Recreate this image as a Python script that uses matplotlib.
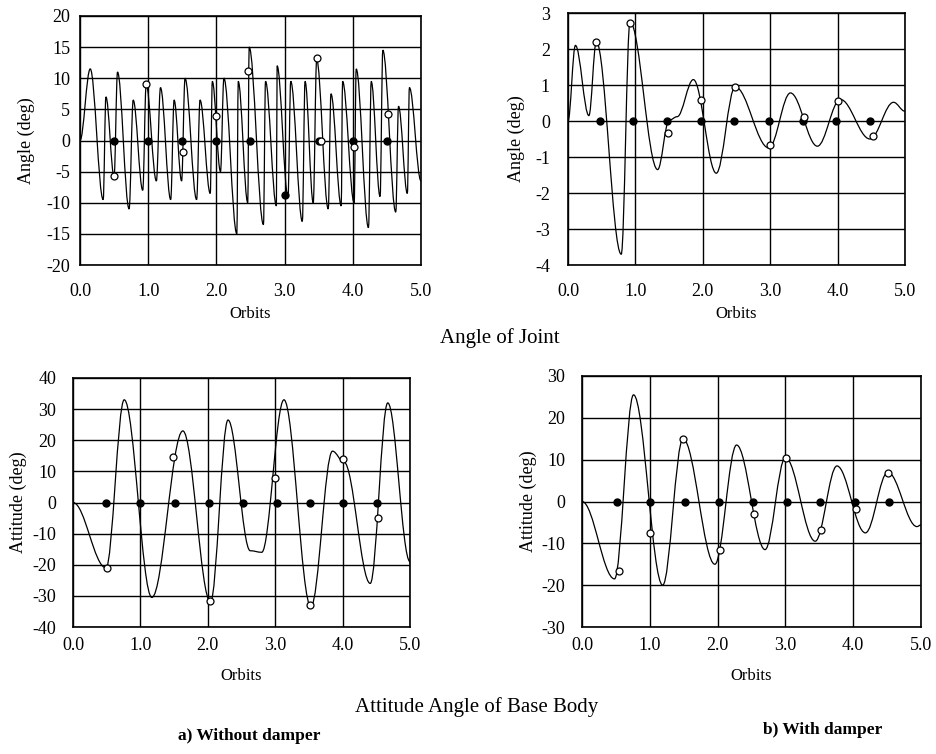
import matplotlib
matplotlib.use("Agg")
import matplotlib.pyplot as plt
from matplotlib.path import Path
from matplotlib.patches import PathPatch
from matplotlib.ticker import FormatStrFormatter

plt.rcParams['font.family'] = ['Liberation Serif', 'DejaVu Serif']
plt.rcParams['axes.unicode_minus'] = False

# ---- joint angle, without damper (turning points)
joint_a_t = [0.0, 0.15, 0.34, 0.38, 0.50, 0.55, 0.72, 0.78, 0.92, 0.97, 1.12, 1.18,
             1.33, 1.38, 1.49, 1.54, 1.71, 1.76, 1.91, 1.94, 2.06, 2.11, 2.30, 2.32,
             2.46, 2.48, 2.69, 2.72, 2.88, 2.89, 3.05, 3.09, 3.26, 3.30, 3.42, 3.47,
             3.64, 3.68, 3.83, 3.85, 4.02, 4.05, 4.23, 4.27, 4.40, 4.44, 4.63, 4.67,
             4.80, 4.83, 5.0]
joint_a_v = [0, 11.5, -9.5, 7, -5.8, 11, -11, 6.5, -8, 9, -6.5, 8.5,
             -9.5, 6.5, -6.5, 10, -9.5, 6.5, -8.5, 9.5, -5, 10, -15, 9.5,
             -10, 15, -13.5, 9.5, -10.5, 12, -9, 9.5, -13, 9.5, -10, 13,
             -11, 7.5, -10.5, 9.5, -10, 11.5, -14, 9.5, -9, 14.5, -11.5, 5.5,
             -8.5, 8.5, -6.5]
joint_a_fill_t = [0.5, 1.0, 1.5, 2.0, 2.5, 3.0, 3.5, 4.0, 4.5]
joint_a_fill_v = [0, 0, 0, 0, 0, -8.7, 0, 0, 0]
joint_a_open_t = [0.50, 0.97, 1.51, 1.99, 2.47, 3.47, 3.53, 4.02, 4.51]
joint_a_open_v = [-5.7, 9, -1.8, 4, 11.2, 13.2, 0, -1, 4.3]

# ---- joint angle, with damper
joint_b_t = [0.0, 0.11, 0.31, 0.42, 0.79, 0.92, 1.33, 1.50, 1.62, 1.86, 2.20,
             2.48, 2.98, 3.30, 3.70, 4.04, 4.48, 4.83, 5.0]
joint_b_v = [0, 2.1, 0.15, 2.2, -3.7, 2.75, -1.35, 0.02, 0.12, 1.15, -1.45,
             0.95, -0.75, 0.78, -0.7, 0.6, -0.5, 0.52, 0.27]
joint_b_fill_t = [0.47, 0.97, 1.47, 1.97, 2.47, 2.98, 3.48, 3.98, 4.48]
joint_b_fill_v = [0, 0, 0, 0, 0, 0, 0, 0, 0]
joint_b_open_t = [0.42, 0.92, 1.48, 1.97, 2.48, 3.0, 3.5, 4.0, 4.53]
joint_b_open_v = [2.2, 2.72, -0.32, 0.58, 0.95, -0.68, 0.12, 0.55, -0.43]

# ---- base attitude, without damper
att_a_t = [0.0, 0.49, 0.76, 1.17, 1.63, 2.04, 2.30, 2.63, 2.80, 3.13, 3.53,
           3.85, 4.02, 4.41, 4.67, 5.0]
att_a_v = [0, -21, 33, -30.5, 23, -32, 26.5, -15.5, -16, 33, -33.5,
           16.5, 13, -26, 32, -19]
att_a_fill_t = [0.49, 0.99, 1.51, 2.02, 2.52, 3.02, 3.51, 4.01, 4.51]
att_a_fill_v = [0, 0, 0, 0, 0, 0, 0, 0, 0]
att_a_open_t = [0.50, 1.49, 2.04, 3.0, 3.52, 4.0, 4.52]
att_a_open_v = [-21, 14.5, -31.5, 8, -33, 14, -5]

# ---- base attitude, with damper
att_b_t = [0.0, 0.48, 0.76, 1.19, 1.49, 1.96, 2.28, 2.70, 3.0, 3.44, 3.76,
           4.18, 4.51, 4.94, 5.0]
att_b_v = [0, -18.5, 25.5, -20, 15, -15, 13.5, -11.5, 10.5, -9.5, 8.5,
           -7.5, 7, -6, -5.6]
att_b_fill_t = [0.51, 1.01, 1.52, 2.02, 2.52, 3.02, 3.51, 4.03, 4.53]
att_b_fill_v = [0, 0, 0, 0, 0, 0, 0, 0, 0]
att_b_open_t = [0.54, 1.01, 1.49, 2.04, 2.53, 3.01, 3.53, 4.04, 4.51]
att_b_open_v = [-16.5, -7.5, 15, -11.5, -3, 10.5, -6.7, -1.8, 6.8]

W, H = 937, 754
fig = plt.figure(figsize=(W / 100, H / 100), dpi=100)


def wave(t, v, k=0.36):
    # smooth curve through the turning points, flat at each of them
    verts = [(t[0], v[0])]
    codes = [Path.MOVETO]
    for i in range(1, len(t)):
        d = t[i] - t[i - 1]
        verts += [(t[i - 1] + k * d, v[i - 1]), (t[i] - k * d, v[i]), (t[i], v[i])]
        codes += [Path.CURVE4] * 3
    return Path(verts, codes)


def panel(left, top, right, bottom, t, v, ft, fv, ot, ov, yticks, ylabel,
          ylab_x, ypad, xpad, xlabpad):
    ax = fig.add_axes([left / W, 1 - bottom / H, (right - left) / W, (bottom - top) / H])
    ax.add_patch(PathPatch(wave(t, v), fill=False, color='black', lw=0.9))
    ax.plot(ft, fv, 'o', ms=5, color='black', zorder=4)
    ax.plot(ot, ov, 'o', ms=5, mfc='white', mec='black', mew=0.9, zorder=5)
    ax.set_xlim(0, 5)
    ax.set_ylim(yticks[0], yticks[-1])
    ax.set_xticks([0, 1, 2, 3, 4, 5])
    ax.set_yticks(yticks)
    ax.xaxis.set_major_formatter(FormatStrFormatter('%.1f'))
    ax.tick_params(length=0, labelsize=13)
    ax.tick_params(axis='y', pad=ypad)
    ax.tick_params(axis='x', pad=xpad)
    ax.grid(True, color='black', lw=1.0)
    ax.set_axisbelow(True)
    for s in ax.spines.values():
        s.set_linewidth(1.2)
    ax.set_xlabel('Orbits', fontsize=12, labelpad=xlabpad)
    ax.set_ylabel(ylabel, fontsize=13)
    ax.yaxis.set_label_coords(ylab_x, 0.5)
    return ax


panel(80, 16, 421, 265, joint_a_t, joint_a_v, joint_a_fill_t, joint_a_fill_v,
      joint_a_open_t, joint_a_open_v, list(range(-20, 21, 5)), 'Angle (deg)',
      -0.132, 7, 13, 4)
panel(568, 13, 905, 265, joint_b_t, joint_b_v, joint_b_fill_t, joint_b_fill_v,
      joint_b_open_t, joint_b_open_v, list(range(-4, 4)), 'Angle (deg)',
      -0.128, 13, 13, 4)
panel(73, 378, 410, 627, att_a_t, att_a_v, att_a_fill_t, att_a_fill_v,
      att_a_open_t, att_a_open_v, list(range(-40, 41, 10)), 'Attitude (deg)',
      -0.137, 12, 7, 10)
panel(582, 376, 921, 627, att_b_t, att_b_v, att_b_fill_t, att_b_fill_v,
      att_b_open_t, att_b_open_v, list(range(-30, 31, 10)), 'Attitude (deg)',
      -0.133, 12, 7, 10)

fig.text(500 / W, 1 - 338 / H, 'Angle of Joint', ha='center', va='center', fontsize=15)
fig.text(477 / W, 1 - 707 / H, 'Attitude Angle of Base Body', ha='center', va='center', fontsize=15)
fig.text(249 / W, 1 - 736 / H, 'a) Without damper', ha='center', va='center',
         fontsize=12.5, fontweight='bold')
fig.text(823 / W, 1 - 730 / H, 'b) With damper', ha='center', va='center',
         fontsize=12.5, fontweight='bold')

fig.savefig('out.png', dpi=100)
